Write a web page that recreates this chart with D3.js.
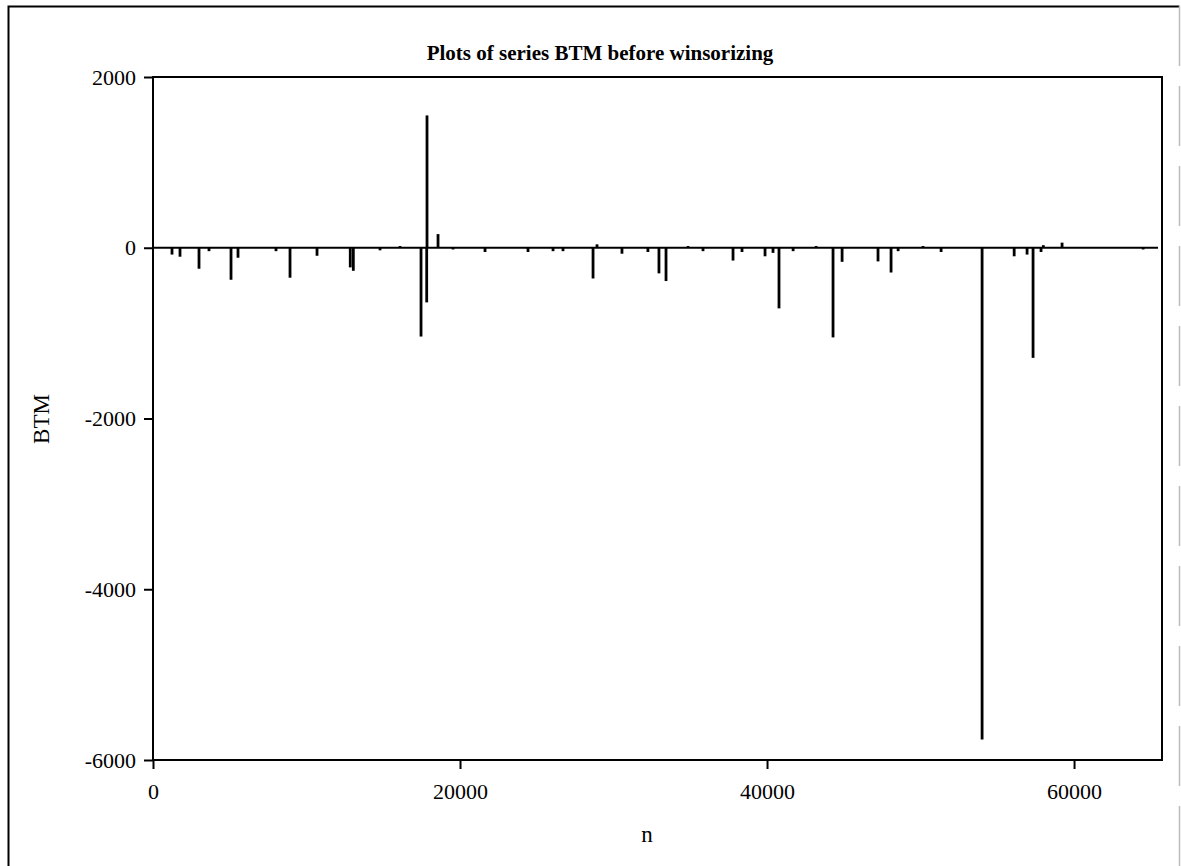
<!doctype html>
<html>
<head>
	<meta charset="utf-8">
	<script src="https://d3js.org/d3.v7.min.js"></script>
	<style>
		body { margin: 0; background: #fff; }
		svg text { font-family: "Liberation Serif", "DejaVu Serif", serif; fill: #000; }
	</style>
</head>
<body>
	<div id="chart"></div>
	<script>
		// series BTM: only the points that stand out from 0
		const spikeN = [1238, 1759, 2997, 3648, 5082, 5538, 8013, 8926, 10685, 12850, 13050,
			14790, 16092, 17460, 17850, 17830, 18568, 19545, 21630, 24430, 26060, 26710,
			28666, 28925, 30550, 32240, 32960, 33420, 34855, 35830, 37785, 38370, 39870,
			40390, 40780, 41700, 43200, 44300, 44890, 47230, 48080, 48540, 50160, 51340,
			54010, 56100, 56940, 57330, 57850, 58000, 59220, 64500];
		const spikeBTM = [-80, -105, -246, -40, -375, -117, -40, -351, -94, -230, -270,
			-30, 20, -1040, 1550, -640, 160, -20, -50, -50, -40, -40,
			-360, 40, -70, -50, -300, -390, 20, -40, -150, -50, -100,
			-60, -710, -40, 20, -1050, -165, -160, -290, -40, 20, -50,
			-5760, -100, -80, -1290, -50, 30, 60, -20];
		const nMax = 65730;
		const xTicks = [0, 20000, 40000, 60000];
		const yTicks = [-6000, -4000, -2000, 0, 2000];

		(function () {
			"use strict";

			const width = 1181, height = 866;
			const plotLeft = 153, plotRight = 1162, plotTop = 77, plotBottom = 760;

			const svg = d3.select("#chart").append("svg")
				.attr("width", width)
				.attr("height", height);

			// outer frame
			svg.append("path")
				.attr("d", "M8.5," + height + "V6.5H1179.5")
				.attr("fill", "none")
				.attr("stroke", "#000")
				.attr("stroke-width", 2);
			svg.append("line")
				.attr("x1", 1179.5).attr("x2", 1179.5)
				.attr("y1", 6).attr("y2", height)
				.attr("stroke", "#bbb")
				.attr("stroke-width", 1.5)
				.attr("stroke-dasharray", "60,20");

			let x = d3.scaleLinear().domain([0, nMax]).range([plotLeft, plotRight]);
			let y = d3.scaleLinear().domain([-6000, 2000]).range([plotBottom, plotTop]);

			// title
			svg.append("text")
				.attr("x", 600)
				.attr("y", 60)
				.attr("text-anchor", "middle")
				.attr("font-size", 21)
				.attr("font-weight", "bold")
				.text("Plots of series BTM before winsorizing");

			// axes (plain hyphen for negatives, as in the picture)
			let fmt = function (d) { return String(d); };
			let yAxis = d3.axisLeft(y).tickValues(yTicks).tickSize(9).tickPadding(8).tickFormat(fmt);
			let xAxis = d3.axisBottom(x).tickValues(xTicks).tickSize(9).tickPadding(14).tickFormat(fmt);

			let gy = svg.append("g").attr("transform", "translate(" + plotLeft + ",0)").call(yAxis);
			let gx = svg.append("g").attr("transform", "translate(0," + plotBottom + ")").call(xAxis);
			[gx, gy].forEach(function (g) {
				g.select(".domain").remove();
				g.attr("font-size", 22).attr("font-family", "Liberation Serif");
				g.selectAll(".tick line").attr("stroke", "#000").attr("stroke-width", 2);
			});

			// plot frame
			svg.append("rect")
				.attr("x", plotLeft).attr("y", plotTop)
				.attr("width", plotRight - plotLeft).attr("height", plotBottom - plotTop)
				.attr("fill", "none")
				.attr("stroke", "#000")
				.attr("stroke-width", 2);

			// series: zero line plus needles
			svg.append("line")
				.attr("x1", x(0)).attr("x2", x(nMax) - 4)
				.attr("y1", y(0)).attr("y2", y(0))
				.attr("stroke", "#000")
				.attr("stroke-width", 2);

			svg.append("g").selectAll("line")
				.data(spikeN.map(function (n, i) { return { n: n, v: spikeBTM[i] }; }))
				.enter().append("line")
				.attr("x1", function (d) { return x(d.n); })
				.attr("x2", function (d) { return x(d.n); })
				.attr("y1", y(0))
				.attr("y2", function (d) { return y(d.v); })
				.attr("stroke", "#000")
				.attr("stroke-width", 2.8);

			// axis labels
			svg.append("text")
				.attr("transform", "translate(49,419) rotate(-90)")
				.attr("text-anchor", "middle")
				.attr("font-size", 23)
				.text("BTM");
			svg.append("text")
				.attr("x", 647)
				.attr("y", 842)
				.attr("text-anchor", "middle")
				.attr("font-size", 23)
				.text("n");
		})();
	</script>
</body>
</html>
